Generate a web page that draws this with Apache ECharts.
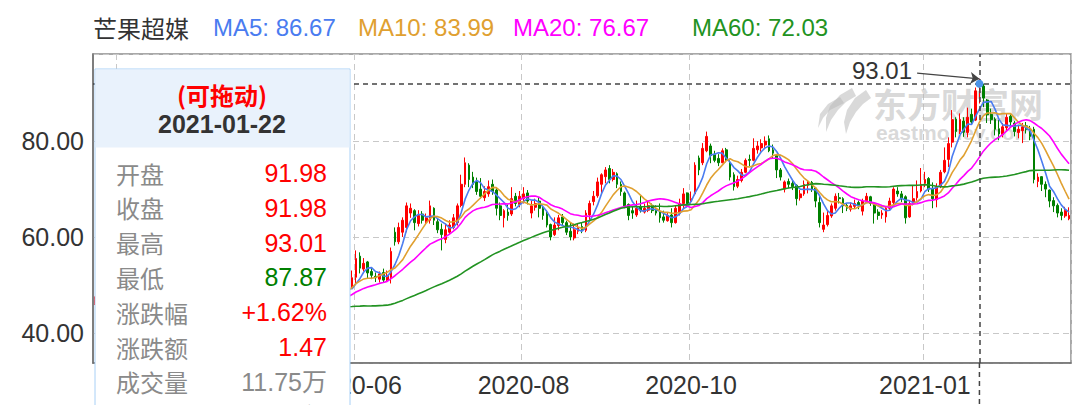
<!DOCTYPE html>
<html><head><meta charset="utf-8">
<script src="https://cdn.jsdelivr.net/npm/echarts@6/dist/echarts.min.js"></script>
<style>html,body{margin:0;padding:0;background:#fff}#c{width:1080px;height:405px}</style>
</head><body><div id="c"></div>
<script>
// ---------- data ----------
const stockName = '芒果超媒';
const startDate = '2020-02-21';
const endDate = '2021-03-03';
const holidays = ['2020-04-06','2020-05-01','2020-05-04','2020-05-05','2020-06-25','2020-06-26',
  '2020-10-01','2020-10-02','2020-10-05','2020-10-06','2020-10-07','2020-10-08',
  '2021-01-01','2021-02-11','2021-02-12','2021-02-15','2021-02-16','2021-02-17'];
const gridMonths = ['2020-03','2020-06','2020-08','2020-10','2021-01'];
const labelMonths = ['2020-06','2020-08','2020-10','2021-01'];
const yTickValues = [40, 60, 80];
const focusIndex = 227;
const volumeText = '11.75万';
const amountText = '10.63亿';
const maPeriods = [5, 10, 20, 60];
// [open, close, low, high]
const candles = [
[46.2,47,45.8,47.6],[47.2,48.5,46.9,49.1],[48.6,47.5,47.1,49.0],[47.6,49,47.3,49.6],[49.2,48,47.6,49.8],
[47.8,46.5,46.1,48.3],[46.8,49.5,46.5,49.9],[49.6,51,49.2,51.7],[51.2,52.5,50.8,53.2],[52.8,52,51.4,53.5],
[52.1,53,51.6,53.9],[53.2,51.5,51.0,53.6],[51.3,50.5,49.8,52.1],[50.6,49.5,49.0,51.2],[49.4,48.5,47.9,50.1],
[48.4,49,47.7,49.6],[48.8,47,46.6,49.2],[46.8,45.5,45.0,47.3],[45.2,44,43.5,45.9],[44.1,45,43.6,45.6],
[45.3,44.5,44.0,45.9],[44.4,45.5,44.1,46.2],[45.6,44,43.7,45.9],[44.1,43,42.6,44.5],[43.0,43.5,42.4,44.0],
[43.6,44,43.1,44.7],[43.8,42.5,42.1,44.1],[42.4,41.5,41.0,42.9],[41.6,40.5,40.1,42.0],[40.6,41,40.0,41.5],
[41.1,41.5,40.6,42.1],[41.4,40,39.6,41.7],[40.1,39.5,39.0,40.6],[39.6,40.5,39.3,41.0],[40.6,41,40.2,41.6],
[41.1,42,40.8,42.6],[42.0,41.5,41.1,42.5],[41.4,40.5,40.1,41.8],[40.6,41,40.2,41.5],[41.1,42,40.9,42.5],
[42.1,41.5,41.2,42.6],[41.4,40.5,40.0,41.8],[40.4,40,39.6,40.9],[40.1,41,39.8,41.5],[41.2,42.5,41.0,43.0],
[42.6,42,41.6,43.1],[42.1,43,41.8,43.5],[43.2,45,42.9,45.5],[45.1,46,44.7,46.6],[46.1,47,45.6,47.6],
[47.1,46.5,46.0,47.6],[46.6,47.5,46.2,48.0],[47.6,47,46.5,48.0],[46.9,46.5,46.0,47.4],[46.6,47.5,46.3,48.0],
[47.6,47,46.6,48.1],[46.9,45.5,45.1,47.2],[45.6,47,45.3,47.5],[47.1,48.5,46.8,49.2],[48.7,50,48.3,50.8],
[50.1,51,49.6,51.8],[51.2,52,50.6,52.9],[52.0,50,49.6,52.3],[49.8,48.5,48.0,50.2],[48.6,47.5,47.0,49.0],
[47.4,48.5,47.0,49.1],[49.5,51.5,49.2,53.0],
[51.6,55.5,50.3,57.2],[56.0,53.5,52.4,56.8],[53.3,54.5,52.8,55.6],[54.8,52.5,51.3,55.0],[52.8,52,51.2,53.6],
[51.8,51.5,50.6,52.6],[51.2,52.3,50.5,52.8],[52.6,51,50.6,53.4],[51.0,52,50.6,53.0],[51.5,57,50.3,57.8],
[61.0,59,58.2,62.0],[59.0,62,58.5,63.0],[61.0,63.5,60.0,64.1],[62.0,66.5,61.0,67.2],[65.0,66,64.0,67.0],
[65.5,63,61.4,65.8],[62.8,64.5,62.2,65.6],[64.8,63.5,62.8,65.4],[63.2,64,62.6,64.9],[63.5,66.5,62.8,67.6],
[66.0,63.5,62.5,66.2],[63.2,61.5,60.8,63.8],[61.6,60.5,57.2,62.8],[59.5,61.5,58.7,62.8],[61.0,62.5,60.5,63.5],
[62.0,64,61.6,64.8],[63.0,66.5,62.4,67.0],[66.6,71,66.2,73.0],[71.0,75.5,70.4,76.6],[75.0,72,70.4,75.4],
[72.5,71,70.2,73.6],[71.5,69.5,68.8,72.4],[70.0,68.5,68.0,72.3],[68.2,69.5,67.5,70.6],[69.0,70.5,68.4,71.8],
[71.0,69.5,68.8,72.0],[69.8,66,64.5,70.2],[66.5,64.5,63.5,67.2],[64.0,65.5,62.0,65.8],[65.2,64.5,63.4,66.8],
[64.8,68,64.4,70.4],[68.5,67,66.4,69.2],[66.8,68.5,66.2,69.6],[68.0,69,67.0,70.4],[69.2,67.5,66.8,69.8],
[65.0,66.5,63.9,67.6],[66.2,67,65.5,68.0],[67.5,66,64.1,68.3],[66.0,64.5,63.6,66.5],[64.8,62.5,62.0,65.5],
[62.6,60,59.3,62.8],[60.5,62.5,60.2,64.1],[62.4,64,61.4,64.6],[64.2,63,62.4,64.8],[63.0,61,60.4,63.4],
[61.2,60,59.3,63.0],[59.8,61.5,59.3,62.8],[61.2,62,60.6,62.9],[62.2,61.5,60.8,63.0],[61.4,65,61.0,65.6],
[64.6,67,63.5,67.6],[67.4,68.5,66.6,69.6],[68.6,71.5,68.2,72.4],[71.0,73,69.1,73.3],[72.6,74,71.2,74.6],
[74.3,72,71.2,75.0],[72.0,73.5,71.6,74.2],[73.2,71,70.2,73.5],[71.0,69.5,68.6,71.6],[69.2,66.5,66.0,69.5],
[66.8,64.5,63.5,67.0],[65.5,65,63.8,66.4],[64.6,66,64.2,67.6],[66.4,65.5,65.1,68.7],[65.2,66,64.9,67.0],
[65.6,66.5,65.2,67.4],[66.6,65.5,65.0,67.0],[65.6,65,64.5,66.6],[65.3,64,63.0,67.0],[64.2,63.5,63.0,65.5],
[63.4,64.5,63.2,65.0],[64.6,63,62.0,66.0],[63.0,66,62.8,66.6],[65.0,67,64.5,68.0],[67.0,69,66.0,70.2],
[69.2,67,66.2,69.3],[67.5,68,67.0,69.5],[69.0,75,68.7,75.6],[76.5,74,72.9,77.0],[75.5,78.5,75.0,79.6],
[78.0,81,77.7,82.0],[79.0,77,75.4,79.5],[77.2,76,75.6,78.0],[76.4,75.5,74.8,77.3],[75.5,78,75.4,78.5],
[78.2,76,75.6,78.6],[75.6,72.5,71.8,76.0],[73.0,70.5,69.7,73.5],[70.6,72,70.2,72.8],[71.8,73.5,71.4,74.2],
[73.5,76,73.3,76.4],[76.2,76,74.8,77.2],[76.0,78.5,75.8,80.6],[78.2,79,77.4,80.0],[78.6,79.5,77.8,80.4],
[79.2,80,78.6,81.0],[80.5,78,77.7,81.2],[78.2,77.5,76.4,79.3],[77.0,74,72.3,77.3],[74.0,72.5,71.8,74.4],
[70.0,71.5,69.3,71.8],[71.6,71,70.2,72.2],[71.2,70.5,69.8,71.8],[70.8,68,66.6,71.0],[68.2,69,67.6,69.8],
[69.0,71,68.6,71.8],[70.8,71.5,69.1,71.8],[71.4,70,69.4,71.7],[70.2,67.5,66.2,70.4],[67.2,63,62.0,68.7],
[61.6,62.5,61.0,65.1],[62.6,64.5,62.2,65.6],[64.4,66.5,64.0,67.0],[66.0,68.5,65.5,69.1],[68.2,68,67.0,69.2],
[68.0,66.5,65.0,68.3],[66.6,66,65.4,67.0],[65.8,66.5,65.3,67.2],[66.4,67,66.0,67.8],[67.2,66.5,65.8,67.6],
[65.4,67.5,64.5,68.0],[67.6,68.5,67.2,69.2],[68.4,67,66.5,68.6],[67.0,65,62.8,67.2],[65.2,64.5,63.6,65.8],
[64.6,65,63.8,65.6],[64.2,66,63.0,66.4],[66.0,67.5,65.6,68.2],[67.2,70,66.6,70.4],[69.6,69,68.4,70.4],
[69.0,68,67.3,69.6],[68.4,64,62.8,68.7],[64.2,67,64.0,67.6],[67.0,68,66.6,70.8],[68.2,69.5,67.6,71.8],
[69.6,71,69.3,74.4],[71.2,72,70.4,73.6],[72.2,70,69.4,72.5],[70.0,68,66.0,71.4],[67.8,70.5,66.2,71.2],
[70.6,73.5,70.2,74.0],[73.6,76,73.3,78.7],[76.2,79.5,74.6,80.8],[79.8,84.5,78.7,86.5],[84.6,82,80.8,85.0],
[82.0,84.55,81.5,85.8],[84.2,81.86,80.9,85.0],[81.8,85,80.8,87.0],[85.6,84,83.6,86.8],[84.4,90.51,84.2,91.2],
[91.98,91.98,87.87,93.01],[91.5,89,87.1,92.0],[88.6,85.5,83.8,88.8],[85.6,84.5,83.6,86.8],[84.6,82.5,81.2,85.0],
[82.6,81.5,80.2,84.4],[81.4,83,80.8,83.8],[82.8,85,82.2,85.8],[85.2,84,83.2,85.6],[83.8,82,81.0,84.2],
[81.8,82.5,80.6,83.4],[82.2,83,79.6,83.8],[83.2,82.5,81.6,84.0],[82.6,81,80.2,83.2],[82.5,72,71.2,83.0],
[71.6,72.5,70.4,73.3],[72.6,71,69.6,72.5],[71.0,70,68.3,71.6],[69.8,67.5,66.2,69.9],[67.6,66.5,65.2,68.3],
[66.6,65,64.1,67.0],[65.2,64.5,63.5,66.0],[64.4,65.5,64.0,66.3],[63.8,64.5,63.5,66.2]
];
const maColors = ['#4a7cf0', '#e0a030', '#ff00ff', '#229322'];

// ---------- derived ----------
function buildDates() {
  const out = [];
  const d = new Date(startDate + 'T00:00:00Z');
  const end = new Date(endDate + 'T00:00:00Z');
  while (d <= end) {
    const wd = d.getUTCDay();
    const s = d.toISOString().slice(0, 10);
    if (wd !== 0 && wd !== 6 && holidays.indexOf(s) < 0) out.push(s);
    d.setUTCDate(d.getUTCDate() + 1);
  }
  return out;
}
const dates = buildDates();
const closes = candles.map(c => c[1]);
function movingAverage(n) {
  return closes.map((_, i) => {
    if (i < n - 1) return '-';
    let s = 0;
    for (let k = i - n + 1; k <= i; k++) s += closes[k];
    return +(s / n).toFixed(4);
  });
}
const maData = maPeriods.map(movingAverage);
const isMonthStart = (d, i) => i > 0 && d.slice(0, 7) !== dates[i - 1].slice(0, 7);
const isGridDay = dates.map((d, i) => isMonthStart(d, i) && gridMonths.indexOf(d.slice(0, 7)) >= 0);
const isLabelDay = dates.map((d, i) => isMonthStart(d, i) && labelMonths.indexOf(d.slice(0, 7)) >= 0);

const FF = '"Liberation Sans", Arial, "Noto Sans CJK SC", sans-serif';
const CJK = '"Noto Sans CJK SC", "Liberation Sans", sans-serif';
const RED = '#ff0000', GREEN = '#008000', GRAY = '#8a8a8a';

const fc = candles[focusIndex];
const prevClose = candles[focusIndex - 1][1];
const yMin = 33.7, yMax = 98.2;

const chart = echarts.init(document.getElementById('c'), null, {renderer: 'svg', width: 1080, height: 405});

const option = {
  animation: false,
  backgroundColor: '#fff',
  grid: {left: 93, right: 9, top: 54, bottom: 42, show: true, borderColor: '#8c8c8c', borderWidth: 1.5},
  xAxis: {
    type: 'category', data: dates, boundaryGap: true,
    axisLine: {lineStyle: {color: '#707070', width: 1.5}},
    axisTick: {show: false},
    axisLabel: {interval: (i) => isLabelDay[i], formatter: v => v.slice(0, 7), color: '#333', fontSize: 25, fontFamily: FF, margin: 9},
    splitLine: {show: true, interval: (i) => isGridDay[i], lineStyle: {type: [6, 4], color: '#c8c8c8', width: 1}}
  },
  yAxis: {
    type: 'value', min: yMin, max: yMax, splitNumber: 3,
    axisLine: {show: true, lineStyle: {color: '#707070', width: 1.5}},
    axisTick: {show: false},
    axisLabel: {
      color: '#333', fontSize: 25, fontFamily: FF, margin: 9, showMinLabel: false, showMaxLabel: false,
      formatter: v => yTickValues.some(t => Math.abs(t - v) < 1e-6) ? v.toFixed(2) : ''
    },
    splitLine: {lineStyle: {type: [6, 4], color: '#c8c8c8', width: 1}}
  },
  series: [
    {
      type: 'candlestick', name: '日K', data: candles.map(c => [c[0], c[1], c[2], c[3]]), barWidth: '58%',
      itemStyle: {color: RED, color0: GREEN, borderColor: RED, borderColor0: GREEN, borderWidth: 1},
      markLine: {
        silent: true, symbol: ['none', 'none'], label: {show: false},
        lineStyle: {color: '#444', type: [5, 4], width: 1.5},
        data: [{xAxis: dates[focusIndex]}, {yAxis: fc[1]}]
      },
      markPoint: {
        silent: true,
        data: [
          {coord: [dates[202], 94.8], symbol: 'circle', symbolSize: 1, itemStyle: {color: 'rgba(0,0,0,0)'},
            label: {show: true, position: 'inside', formatter: fc[3].toFixed(2), color: '#333', fontSize: 24, lineHeight: 22, fontFamily: FF}},
          {coord: [dates[focusIndex], fc[1]], symbol: 'circle', symbolSize: 8, itemStyle: {color: '#4b94ea'}, label: {show: false}}
        ]
      },
      z: 3
    }
  ].concat(maPeriods.map((p, k) => ({
    type: 'line', name: 'MA' + p, data: maData[k], showSymbol: false, symbol: 'none',
    lineStyle: {color: maColors[k], width: 1.6}, itemStyle: {color: maColors[k]}, z: 4,
    markLine: k === 3 ? {
      silent: true, symbol: ['none', 'arrow'], symbolSize: 9, label: {show: false},
      lineStyle: {color: '#444', type: 'solid', width: 1.2},
      data: [[{coord: [dates[211], 94.2]}, {coord: [dates[focusIndex], fc[3]]}]]
    } : undefined
  })))
};
chart.setOption(option);

// ---------- overlays ----------
const px = chart.convertToPixel({xAxisIndex: 0}, dates[focusIndex]);
const pyBottom = chart.convertToPixel({yAxisIndex: 0}, yMin);

function txt(text, x, y, opts) {
  return Object.assign({type: 'text', z: 110, silent: true,
    style: Object.assign({text: text, x: x, y: y, fill: '#333', fontSize: 24, fontFamily: FF,
      align: 'left', textAlign: 'left', verticalAlign: 'middle', textVerticalAlign: 'middle'}, opts || {})});
}

const wmFill = 'rgba(185,185,185,0.55)';
const els = [];
// watermark
els.push({type: 'polygon', z: 1, silent: true, shape: {points: [[852,88],[840,95],[830,106],[826,118],[826,132],[831,120],[838,110],[846,102],[856,96]]}, style: {fill: wmFill}});
els.push({type: 'polygon', z: 1, silent: true, shape: {points: [[866,90],[855,98],[847,110],[844,122],[846,134],[850,122],[856,112],[863,104],[871,98]]}, style: {fill: wmFill}});
els.push({type: 'polygon', z: 1, silent: true, shape: {points: [[840,97],[828,104],[820,114],[818,128],[823,118],[830,110],[844,103]]}, style: {fill: wmFill}});
els.push({type: 'text', z: 1, silent: true, style: {text: '东方财富网', x: 873, y: 103, fill: wmFill, fontSize: 34, lineHeight: 28, fontWeight: 'bold', fontFamily: CJK, align: 'left', textAlign: 'left', verticalAlign: 'middle', textVerticalAlign: 'middle'}});
els.push({type: 'text', z: 1, silent: true, style: {text: 'eastmoney.com', x: 876, y: 132, fill: wmFill, fontSize: 21, lineHeight: 18, fontWeight: 'bold', fontFamily: FF, align: 'left', textAlign: 'left', verticalAlign: 'middle', textVerticalAlign: 'middle'}});
// crosshair extension below axis
els.push({type: 'line', z: 50, silent: true, shape: {x1: px, y1: pyBottom, x2: px, y2: 405}, style: {stroke: '#444', lineWidth: 1.5, lineDash: [5, 4]}});
// title + MA legend
els.push(txt(stockName, 93, 27, {fill: '#333', fontFamily: CJK}));
const legendX = [213, 358, 513, 692];
maPeriods.forEach((p, k) => {
  els.push(txt('MA' + p + ': ' + maData[k][focusIndex].toFixed(2), legendX[k], 27, {fill: maColors[k]}));
});
// tooltip panel
els.push({type: 'rect', z: 100, silent: true, shape: {x: 95, y: 69, width: 255, height: 400}, style: {fill: '#fff', stroke: '#a8d0f6', lineWidth: 1}});
els.push({type: 'rect', z: 101, silent: true, shape: {x: 95.5, y: 69.5, width: 254, height: 78}, style: {fill: '#e9f2fc'}});
els.push(txt('(可拖动)', 222, 94, {fill: RED, fontWeight: 'bold', fontFamily: CJK, align: 'center', textAlign: 'center'}));
els.push(txt(dates[focusIndex], 222, 124, {fill: '#333', fontWeight: 'bold', fontSize: 25, align: 'center', textAlign: 'center'}));
const chg = fc[1] - prevClose;
const colorOf = v => v > prevClose ? RED : (v < prevClose ? GREEN : '#333');
const rows = [
  ['开盘', fc[0].toFixed(2), colorOf(fc[0])],
  ['收盘', fc[1].toFixed(2), colorOf(fc[1])],
  ['最高', fc[3].toFixed(2), colorOf(fc[3])],
  ['最低', fc[2].toFixed(2), colorOf(fc[2])],
  ['涨跌幅', (chg >= 0 ? '+' : '') + (chg / prevClose * 100).toFixed(2) + '%', chg >= 0 ? RED : GREEN],
  ['涨跌额', chg.toFixed(2), chg >= 0 ? RED : GREEN],
  ['成交量', volumeText, GRAY],
  ['成交额', amountText, GRAY]
];
rows.forEach((r, k) => {
  const y = 173 + k * 34.8;
  els.push(txt(r[0], 116, y, {fill: GRAY, fontFamily: CJK}));
  els.push(txt(r[1], 327, y, {fill: r[2], fontSize: 25, align: 'right', textAlign: 'right'}));
});
chart.setOption({graphic: {elements: els}});
</script>
</body></html>
